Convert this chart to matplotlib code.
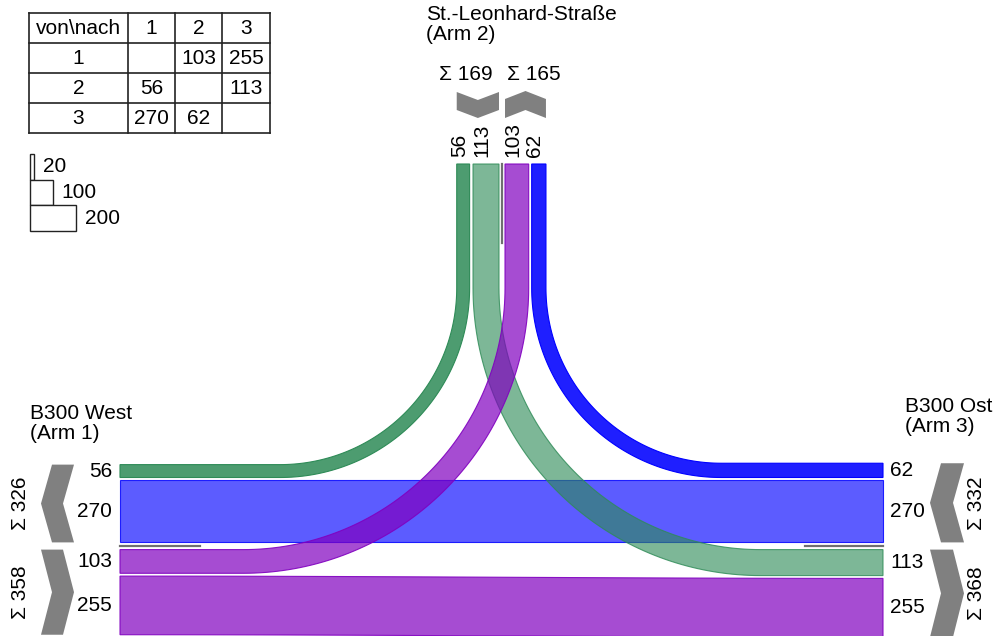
import numpy as np
import matplotlib.pyplot as plt
from matplotlib.patches import Polygon, Rectangle

plt.rcParams['font.family'] = ['Liberation Sans', 'DejaVu Sans']

# Verkehrsströme: flows[i][j] = Fahrzeuge von Arm i+1 nach Arm j+1
flows = [[0, 103, 255],
         [56, 0, 113],
         [270, 62, 0]]
arm_names = ["B300 West\n(Arm 1)", "St.-Leonhard-Straße\n(Arm 2)", "B300 Ost\n(Arm 3)"]
table_header = ["von\\nach", "1", "2", "3"]
legend_values = [20, 100, 200]

f = lambda a, b: flows[a - 1][b - 1]
out_sum = [sum(r) for r in flows]
in_sum = [sum(flows[i][j] for i in range(3)) for j in range(3)]

# layout (Pixel)
S = 0.23           # px pro Fahrzeug
GAP = 2.8
SEP_S, SEP_T = 3.6, 3.0
X_LEFT, X_RIGHT = 120, 883
Y_SEP, X_SEP = 546, 502
Y_TOP, Y_JUNC = 164, 288
FS = 15

colors = {1: (0.50, 0.0, 0.75), 2: (0.18, 0.545, 0.34), 3: (0.0, 0.0, 1.0)}
alphas = {(1, 2): 0.70, (1, 3): 0.70, (2, 1): 0.85, (2, 3): 0.62, (3, 1): 0.64, (3, 2): 0.88}


def stack(vals, start, sign, gap=GAP):
    spans, pos = [], start
    for v in vals:
        w = v * S
        if sign > 0:
            spans.append((pos, pos + w))
            pos += w + gap
        else:
            spans.append((pos - w, pos))
            pos -= w + gap
    return spans


# Arm 1 (links): oben Zufluss nach 1, unten Abfluss aus 1
L31, L21 = stack([f(3, 1), f(2, 1)], Y_SEP - SEP_S, -1)
L12, L13 = stack([f(1, 2), f(1, 3)], Y_SEP + SEP_S, 1)
# Arm 3 (rechts)
R31, R32 = stack([f(3, 1), f(3, 2)], Y_SEP - SEP_S, -1)
R23, R13 = stack([f(2, 3), f(1, 3)], Y_SEP + SEP_S, 1)
# Arm 2 (oben)
T23, T21 = stack([f(2, 3), f(2, 1)], X_SEP - SEP_T, -1, gap=3.4)
T12, T32 = stack([f(1, 2), f(3, 2)], X_SEP + SEP_T, 1, gap=3.0)

fig = plt.figure(figsize=(9.97, 6.36), dpi=100)
ax = fig.add_axes([0, 0, 1, 1])
ax.set_xlim(0, 997)
ax.set_ylim(636, 0)
ax.axis('off')


def add_band(pts, key):
    c = colors[key[0]]
    a = alphas[key]
    ax.add_patch(Polygon(pts, closed=True, facecolor=(*c, a),
                         edgecolor=(*c, min(1, a + 0.2)), lw=0.8))


def straight_band(lspan, rspan, key):
    xs = np.linspace(X_LEFT, X_RIGHT, 200)
    t = 0.5 - 0.5 * np.cos(np.pi * (xs - X_LEFT) / (X_RIGHT - X_LEFT))
    top = lspan[0] + (rspan[0] - lspan[0]) * t
    bot = lspan[1] + (rspan[1] - lspan[1]) * t
    pts = np.vstack([np.column_stack([xs, top]), np.column_stack([xs[::-1], bot[::-1]])])
    add_band(pts, key)


def turn_band(tspan, sspan, side, key):
    w = tspan[1] - tspan[0]
    yh = sspan[0]
    r0 = yh - Y_JUNC
    r1 = r0 + w
    if side < 0:
        cx = tspan[0] - r0
        th = np.linspace(0, np.pi / 2, 80)
        x_end = X_LEFT
    else:
        cx = tspan[1] + r0
        th = np.linspace(np.pi, np.pi / 2, 80)
        x_end = X_RIGHT
    inner = np.column_stack([cx + r0 * np.cos(th), Y_JUNC + r0 * np.sin(th)])
    outer = np.column_stack([cx + r1 * np.cos(th), Y_JUNC + r1 * np.sin(th)])
    pts = np.vstack([[inner[0, 0], Y_TOP], inner, [[x_end, yh], [x_end, yh + w]],
                     outer[::-1], [[outer[0, 0], Y_TOP]]])
    add_band(pts, key)


straight_band(L31, R31, (3, 1))
straight_band(L13, R13, (1, 3))
turn_band(T21, L21, -1, (2, 1))
turn_band(T32, R32, 1, (3, 2))
turn_band(T23, R23, 1, (2, 3))
turn_band(T12, L12, -1, (1, 2))

# Trennlinien
sep_col = '#6f6f6f'
ax.plot([X_LEFT, X_LEFT + 80], [Y_SEP, Y_SEP], color=sep_col, lw=1.6)
ax.plot([X_RIGHT - 78, X_RIGHT], [Y_SEP, Y_SEP], color=sep_col, lw=1.6)
ax.plot([X_SEP, X_SEP], [Y_TOP, Y_TOP + 79], color=sep_col, lw=1.6)

# Werte an den Armen
for span, key in [(L21, (2, 1)), (L31, (3, 1)), (L12, (1, 2)), (L13, (1, 3))]:
    ax.text(112, sum(span) / 2, str(f(*key)), ha='right', va='center', fontsize=FS)
for span, key in [(R32, (3, 2)), (R31, (3, 1)), (R23, (2, 3)), (R13, (1, 3))]:
    ax.text(890, sum(span) / 2, str(f(*key)), ha='left', va='center', fontsize=FS)
for span, key in [(T21, (2, 1)), (T23, (2, 3)), (T12, (1, 2)), (T32, (3, 2))]:
    ax.text(sum(span) / 2 - 4, 157, str(f(*key)), ha='center', va='bottom',
            rotation=90, fontsize=FS)

# Pfeile (Chevrons)
gray = '#808080'


def chev_h(x0, x1, y0, y1, left, d=11):
    ym = (y0 + y1) / 2
    if left:
        pts = [(x0 + d, y0), (x1, y0), (x1 - d, ym), (x1, y1), (x0 + d, y1), (x0, ym)]
    else:
        pts = [(x0, y0), (x1 - d, y0), (x1, ym), (x1 - d, y1), (x0, y1), (x0 + d, ym)]
    ax.add_patch(Polygon(pts, closed=True, facecolor=gray, edgecolor='none'))


def chev_v(x0, x1, y0, y1, down, d=8):
    xm = (x0 + x1) / 2
    if down:
        pts = [(x0, y0), (xm, y0 + d), (x1, y0), (x1, y1 - d), (xm, y1), (x0, y1 - d)]
    else:
        pts = [(x0, y0 + d), (xm, y0), (x1, y0 + d), (x1, y1), (xm, y1 - d), (x0, y1)]
    ax.add_patch(Polygon(pts, closed=True, facecolor=gray, edgecolor='none'))


chev_h(41, 74, L21[0], L31[1], True)
chev_h(41, 74, L12[0], L13[1], False)
chev_h(930, 964, R32[0], R31[1], True)
chev_h(930, 964, R23[0], R13[1], False)
chev_v(T21[0], T23[1], 92, 118, True)
chev_v(T12[0], T32[1], 91, 118, False)

ax.text(21, (L21[0] + L31[1]) / 2, f"Σ {in_sum[0]}", rotation=90, ha='center', va='center', fontsize=FS)
ax.text(21, (L12[0] + L13[1]) / 2, f"Σ {out_sum[0]}", rotation=90, ha='center', va='center', fontsize=FS)
ax.text(976, (R32[0] + R31[1]) / 2, f"Σ {out_sum[2]}", rotation=90, ha='center', va='center', fontsize=FS)
ax.text(976, (R23[0] + R13[1]) / 2, f"Σ {in_sum[2]}", rotation=90, ha='center', va='center', fontsize=FS)
ax.text(T23[1] - 6, 75, f"Σ {out_sum[1]}", ha='right', va='center', fontsize=FS)
ax.text(T12[0] + 2, 75, f"Σ {in_sum[1]}", ha='left', va='center', fontsize=FS)

# Armbezeichnungen
ax.text(30, 404, arm_names[0], ha='left', va='top', fontsize=FS, linespacing=1.05)
ax.text(426, 5, arm_names[1], ha='left', va='top', fontsize=FS, linespacing=1.05)
ax.text(905, 397, arm_names[2], ha='left', va='top', fontsize=FS, linespacing=1.05)

# Matrix-Tabelle
col_x = [29, 128, 175, 222, 270]
row_y = [13, 43, 73, 103, 133]
for x in col_x:
    ax.plot([x, x], [row_y[0], row_y[-1]], color='#222222', lw=1.2)
for y in row_y:
    ax.plot([col_x[0], col_x[-1]], [y, y], color='#222222', lw=1.2)
cells = [table_header] + [[str(i + 1)] + [str(v) if v else "" for v in flows[i]] for i in range(3)]
for r, row in enumerate(cells):
    for c, txt in enumerate(row):
        ax.text((col_x[c] + col_x[c + 1]) / 2, (row_y[r] + row_y[r + 1]) / 2 + 1, txt,
                ha='center', va='center', fontsize=FS)

# Legende der Bandbreiten
y0 = 154
for v in legend_values:
    w = v * S
    ax.add_patch(Rectangle((29.5, y0), w, 25.5, facecolor='white', edgecolor='#222222', lw=1))
    ax.text(29.5 + w + 9, y0 + 13, str(v), ha='left', va='center', fontsize=FS)
    y0 += 25.5

fig.savefig('out.png', dpi=100)
